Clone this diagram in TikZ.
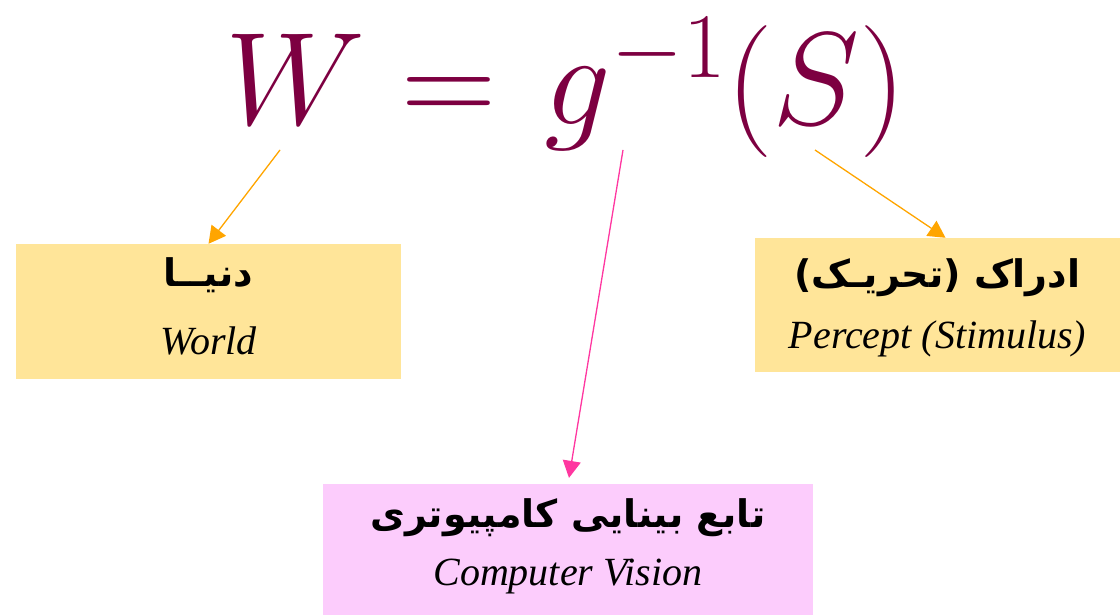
\RequirePackage{fix-cm}
\documentclass[tikz,border=0pt]{standalone}
\usepackage{fontspec}
\usepackage{tikz}
\usetikzlibrary{arrows.meta,positioning}
\TeXXeTstate=1
\newfontfamily\arabicfont[Script=Arabic]{DejaVu Sans}
\newfontfamily\timesfont{Liberation Serif}
\definecolor{formula}{RGB}{125,0,65}
\definecolor{worldfill}{RGB}{255,229,153}
\definecolor{visionfill}{RGB}{252,204,252}
\definecolor{pointer}{RGB}{255,165,0}
\definecolor{cvpointer}{RGB}{255,55,160}
\newlength{\textdrop}
\newcommand{\farsi}[1]{\raisebox{-\textdrop}[0pt][0pt]{\arabicfont\bfseries\fontsize{38}{40}\selectfont\beginR #1\endR}}
\newcommand{\english}[1]{\raisebox{-\textdrop}[0pt][0pt]{\timesfont\itshape\fontsize{40}{44}\selectfont #1}}

\begin{document}
\begin{tikzpicture}[x=1pt,y=-1pt]
\tikzset{
  box/.style={inner sep=0pt,align=center},
  linegap/.style={font=\fontsize{40}{#1}\selectfont},
  sink/.style={execute at begin node={\setlength{\textdrop}{#1}}},
  link/.style={line width=1.3pt,-{Triangle[length=17pt,width=18pt]}}
}
\useasboundingbox (0,0) rectangle (1120,615);
\node[anchor=base,text=formula,font=\fontsize{132}{150}\selectfont] (law) at (566,125) {$W =\mkern1.5mu g^{-1}(S)$};
\coordinate (wtip) at (280,150);
\coordinate (gtip) at (623,150);
\coordinate (stip) at (815,150);
\node[box,linegap=68,sink=8.5pt,fill=worldfill,minimum width=385,minimum height=135] (world) at (208.5,311.5) {\farsi{دنیــا}\\ \english{World}};
\node[box,linegap=61,sink=12.5pt,fill=worldfill,minimum width=365,minimum height=134] (percept) at (937.5,305) {\farsi{ادراک (تحریـک)}\\ \english{Percept (Stimulus)}};
\node[box,linegap=58,sink=6.5pt,fill=visionfill,minimum width=490,minimum height=131] (vision) at (568,549.5) {\farsi{تابع بینایی کامپیوتری}\\ \english{Computer Vision}};
\draw[link,draw=pointer,fill=pointer] (wtip) -- (world.north);
\draw[link,draw=pointer,fill=pointer] (stip) -- ([xshift=8pt]percept.north);
\draw[link,draw=cvpointer,fill=cvpointer,shorten >=6pt] (gtip) -- (vision.north);
\end{tikzpicture}
\end{document}
